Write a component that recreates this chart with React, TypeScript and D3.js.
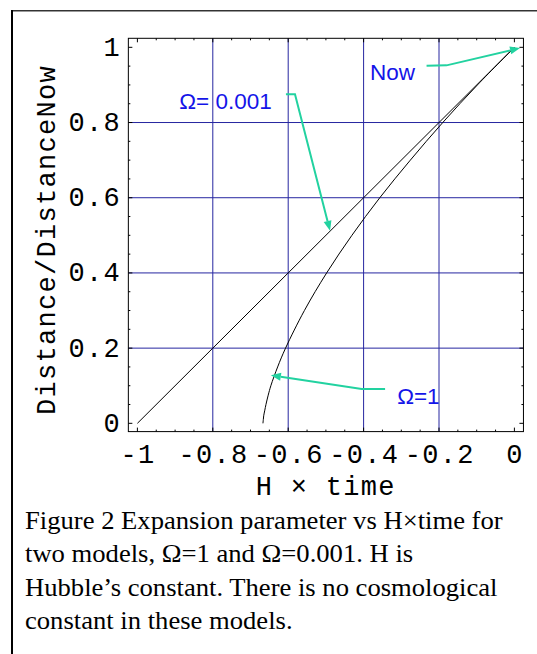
import React from "react";
import * as d3 from "d3";

const W = 537;
const H = 654;

// tick values and labels
const xTicks = [-1, -0.8, -0.6, -0.4, -0.2, 0];
const xTickLabels = ["-1", "-0.8", "-0.6", "-0.4", "-0.2", "0"];
const yTicks = [0, 0.2, 0.4, 0.6, 0.8, 1];
const yTickLabels = ["0", "0.2", "0.4", "0.6", "0.8", "1"];

// Omega = 0.001 model (practically a straight line)
const openX = [-1, -0.8, -0.6, -0.4, -0.2, 0];
const openY = [0, 0.2, 0.4, 0.6, 0.8, 1];

// Omega = 1 model
const flatX = [-0.667, -0.666, -0.665, -0.662, -0.659, -0.653, -0.646, -0.628, -0.607, -0.557, -0.498, -0.431, -0.357, -0.276, -0.19, -0.098, 0];
const flatY = [0, 0.01, 0.02, 0.035, 0.05, 0.075, 0.1, 0.15, 0.2, 0.3, 0.4, 0.5, 0.6, 0.7, 0.8, 0.9, 1];

// annotation arrows, in data units: [x, y] points, last one is the tip
const nowArrow = [[-0.233, 0.951], [-0.18, 0.952], [0.015, 0.998]];
const openArrow = [[-0.606, 0.875], [-0.582, 0.875], [-0.489, 0.512]];
const flatArrow = [[-0.343, 0.091], [-0.405, 0.091], [-0.646, 0.128]];

const captionLines = [
  "Figure 2 Expansion parameter vs H\u00d7time for",
  "two models, \u03a9=1 and \u03a9=0.001. H is",
  "Hubble\u2019s constant. There is no cosmological",
  "constant in these models.",
];

const MONO = "'Liberation Mono', 'Courier New', monospace";
const SANS = "'Liberation Sans', Arial, sans-serif";
const SERIF = "'Liberation Serif', 'Times New Roman', serif";
const GRID = "#2626a0";
const TEAL = "#22d2a0";
const BLUE = "#1414e8";
const LS = 1.3;

const x = d3.scaleLinear().domain([-1.024, 0.024]).range([128.35, 523.45]);
const y = d3.scaleLinear().domain([-0.022, 1.024]).range([431.6, 38.3]);

const Arrow = ({ pts }: { pts: number[][] }) => {
  const p = pts.map(([a, b]) => [x(a), y(b)]);
  const [tx, ty] = p[p.length - 1];
  const [sx, sy] = p[p.length - 2];
  const len = Math.hypot(tx - sx, ty - sy);
  const ux = (tx - sx) / len;
  const uy = (ty - sy) / len;
  const hl = 10;
  const hw = 4;
  const bx = tx - ux * hl;
  const by = ty - uy * hl;
  const head = [
    [tx, ty],
    [bx - uy * hw, by + ux * hw],
    [bx + uy * hw, by - ux * hw],
  ];
  const body = p.slice(0, -1).concat([[bx, by]]);
  return (
    <g>
      <path d={d3.line()(body as [number, number][]) ?? ""} fill="none" stroke={TEAL} strokeWidth={2} />
      <polygon points={head.map((q) => q.join(",")).join(" ")} fill={TEAL} />
    </g>
  );
};

export default function App() {
  const [x0, x1] = x.range();
  const [y0, y1] = y.range();
  const minorX = x.ticks(20);
  const minorY = y.ticks(20);

  const openPath = d3
    .line<number>()
    .x((d, i) => x(openX[i]))
    .y((d) => y(d))(openY);
  const flatPath = d3
    .line<number>()
    .curve(d3.curveCatmullRom)
    .x((d, i) => x(flatX[i]))
    .y((d) => y(d))(flatY);

  return (
    <svg width={W} height={H} style={{ position: "absolute", left: 0, top: 0 }}>
      <rect width={W} height={H} fill="#fff" />
      {/* outer frame */}
      <line x1={12} x2={W} y1={10.5} y2={10.5} stroke="#333" strokeWidth={1} />
      <line x1={12} x2={W} y1={11.5} y2={11.5} stroke="#999" strokeWidth={1} />
      <line x1={12} x2={12} y1={10} y2={H} stroke="#000" strokeWidth={2} />

      {/* grid */}
      {xTicks.slice(1, -1).map((t) => (
        <line key={"gx" + t} x1={x(t)} x2={x(t)} y1={y1} y2={y0} stroke={GRID} strokeWidth={1} />
      ))}
      {yTicks.slice(1, -1).map((t) => (
        <line key={"gy" + t} x1={x0} x2={x1} y1={y(t)} y2={y(t)} stroke={GRID} strokeWidth={1} />
      ))}

      {/* ticks on all four sides, pointing inward */}
      {minorX.map((t) => {
        const major = xTicks.some((m) => Math.abs(m - t) < 1e-6);
        const L = major ? 4 : 2;
        return (
          <g key={"tx" + t}>
            <line x1={x(t)} x2={x(t)} y1={y0} y2={y0 - L} stroke="#000" />
            <line x1={x(t)} x2={x(t)} y1={y1} y2={y1 + L} stroke="#000" />
          </g>
        );
      })}
      {minorY.map((t) => {
        const major = yTicks.some((m) => Math.abs(m - t) < 1e-6);
        const L = major ? 4 : 2;
        return (
          <g key={"ty" + t}>
            <line x1={x0} x2={x0 + L} y1={y(t)} y2={y(t)} stroke="#000" />
            <line x1={x1} x2={x1 - L} y1={y(t)} y2={y(t)} stroke="#000" />
          </g>
        );
      })}

      {/* curves */}
      <path d={openPath ?? ""} fill="none" stroke="#000" strokeWidth={1} />
      <path d={flatPath ?? ""} fill="none" stroke="#000" strokeWidth={1} />

      {/* plot frame */}
      <rect x={x0} y={y1} width={x1 - x0} height={y0 - y1} fill="none" stroke="#000" strokeWidth={1} />

      {/* tick labels */}
      <g fontFamily={MONO} fontSize={27} letterSpacing={LS} fill="#000">
        {xTicks.map((t, i) => (
          <text key={"lx" + t} x={x(t) + LS / 2} y={462.5} textAnchor="middle">
            {xTickLabels[i]}
          </text>
        ))}
        {yTicks.map((t, i) => (
          <text key={"ly" + t} x={121} y={y(t) + 8.5} textAnchor="end">
            {yTickLabels[i]}
          </text>
        ))}
        <text x={325 + LS / 2} y={495} textAnchor="middle">
          H × time
        </text>
        <text transform="translate(55,240) rotate(-90)" textAnchor="middle">
          Distance/DistanceNow
        </text>
      </g>

      {/* annotations */}
      <Arrow pts={nowArrow} />
      <Arrow pts={openArrow} />
      <Arrow pts={flatArrow} />
      <g fontFamily={SANS} fontSize={22.5} fill={BLUE}>
        <text x={x(-0.383)} y={y(0.913)}>Now</text>
        <text x={x(-0.889)} y={y(0.835)}>Ω= 0.001</text>
        <text x={x(-0.311)} y={y(0.051)}>Ω=1</text>
      </g>

      {/* caption */}
      <g fontFamily={SERIF} fontSize={25} fill="#000" transform="translate(25,0) scale(1.065,1)">
        {captionLines.map((s, i) => (
          <text key={i} x={0} y={529 + i * 33.4}>
            {s}
          </text>
        ))}
      </g>
    </svg>
  );
}
